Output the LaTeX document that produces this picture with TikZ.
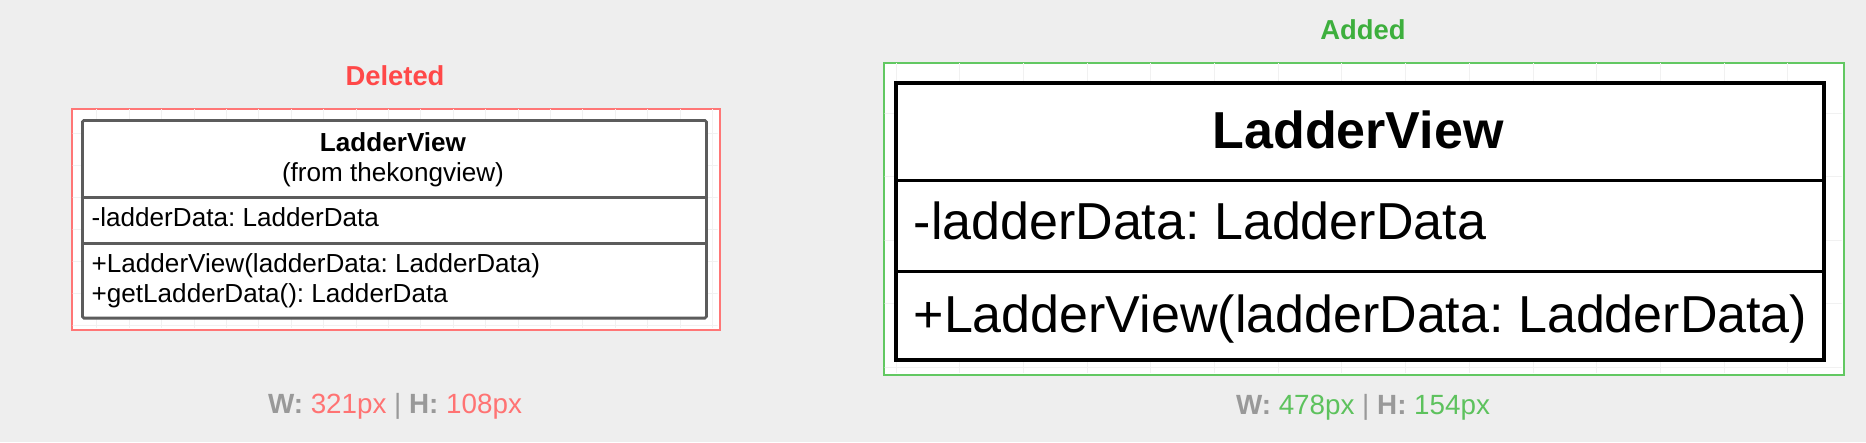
\documentclass[tikz,border=0pt]{standalone}
\usepackage{fontspec}
\setmainfont{Liberation Sans}
\frenchspacing
\definecolor{bg}{HTML}{EEEEEE}
\definecolor{delred}{HTML}{FF4848}
\definecolor{delbox}{HTML}{FF7676}
\definecolor{delnum}{HTML}{FF7373}
\definecolor{addgreen}{HTML}{3DAF3D}
\definecolor{addbox}{HTML}{62C862}
\definecolor{addnum}{HTML}{5DC25D}
\definecolor{labgray}{HTML}{999999}
\definecolor{gridc}{HTML}{F1F1F1}
\definecolor{delborder}{HTML}{5C5C5C}
\tikzset{
  panel/.style={fill=white, line width=2pt, inner sep=0pt, anchor=north west},
  classbox/.style={fill=white, inner sep=0pt, anchor=north west},
  labeltext/.style={font=\fontsize{27.4pt}{32pt}\selectfont\bfseries, inner sep=0pt, anchor=base},
  sizetext/.style={font=\fontsize{27.8pt}{32pt}\selectfont, inner sep=0pt, anchor=base},
  deltext/.style={font=\fontsize{26.1pt}{30pt}\selectfont, inner sep=0pt, text=black},
  addtext/.style={font=\fontsize{52pt}{60pt}\selectfont, inner sep=0pt, text=black},
  gridline/.style={gridc, line width=1pt}
}
\begin{document}
\begin{tikzpicture}[x=1pt,y=-1pt]
\fill[bg] (0,0) rectangle (1866,442);
\useasboundingbox (0,0) rectangle (1866,442);

% ---------------- Deleted ----------------
\node[labeltext, text=delred] (dellabel) at (395,85) {Deleted};
\node[panel, draw=delbox, minimum width=648pt, minimum height=221.3pt] (delpanel) at (71,107.7) {};
\begin{scope}
  \clip (72.5,109.2) rectangle (717.5,327.5);
  \foreach \i in {0,...,20} {\draw[gridline] (96.9+32.4*\i,100) -- (96.9+32.4*\i,340);}
  \foreach \j in {0,...,7} {\draw[gridline] (60,133+32*\j) -- (730,133+32*\j);}
\end{scope}
\node[classbox, draw=delborder, line width=2.8pt, rounded corners=1.5pt, minimum width=624pt, minimum height=197.7pt] (delclass) at (81,119) {};
\draw[delborder, line width=2.8pt] (delclass.west |- 0,197.3) -- (delclass.east |- 0,197.3);
\draw[delborder, line width=2.8pt] (delclass.west |- 0,243.3) -- (delclass.east |- 0,243.3);
\node[deltext, anchor=base] (delname) at (393,151.7) {\bfseries LadderView};
\node[deltext, anchor=base] (delfrom) at (393,181.7) {(from thekongview)};
\node[deltext, anchor=base west] (delattr) at (91.5,226.7) {-ladderData: LadderData};
\node[deltext, anchor=base west] (delop1) at (91.5,272.7) {+LadderView(ladderData: LadderData)};
\node[deltext, anchor=base west] (delop2) at (91.5,302.3) {+getLadderData(): LadderData};
\node[sizetext] (delsize) at (395,413.5) {\textcolor{labgray}{\bfseries W:} \textcolor{delnum}{321px} \textcolor{labgray}{|} \textcolor{labgray}{\bfseries H:} \textcolor{delnum}{108px}};

% ---------------- Added ----------------
\node[labeltext, text=addgreen] (addlabel) at (1363,39.3) {Added};
\node[panel, draw=addbox, minimum width=960pt, minimum height=312.3pt] (addpanel) at (883,62) {};
\begin{scope}
  \clip (884.5,63.5) rectangle (1841.5,372.8);
  \foreach \i in {0,...,15} {\draw[gridline] (896+63.7*\i,50) -- (896+63.7*\i,380);}
  \foreach \j in {0,...,5} {\draw[gridline] (870,49.8+63.5*\j) -- (1860,49.8+63.5*\j);}
\end{scope}
\node[classbox, draw=black, line width=4pt, minimum width=928pt, minimum height=277.6pt] (addclass) at (894,80.7) {};
\draw[black, line width=3.3pt] (addclass.west |- 0,180.3) -- (addclass.east |- 0,180.3);
\draw[black, line width=3.3pt] (addclass.west |- 0,271.7) -- (addclass.east |- 0,271.7);
\node[addtext, anchor=base] (addname) at (1358,148) {\bfseries LadderView};
\node[addtext, anchor=base west] (addattr) at (913.5,239) {-ladderData: LadderData};
\node[addtext, anchor=base west] (addop1) at (913.5,332) {+LadderView(ladderData: LadderData)};
\node[sizetext] (addsize) at (1363,414) {\textcolor{labgray}{\bfseries W:} \textcolor{addnum}{478px} \textcolor{labgray}{|} \textcolor{labgray}{\bfseries H:} \textcolor{addnum}{154px}};
\end{tikzpicture}
\end{document}
